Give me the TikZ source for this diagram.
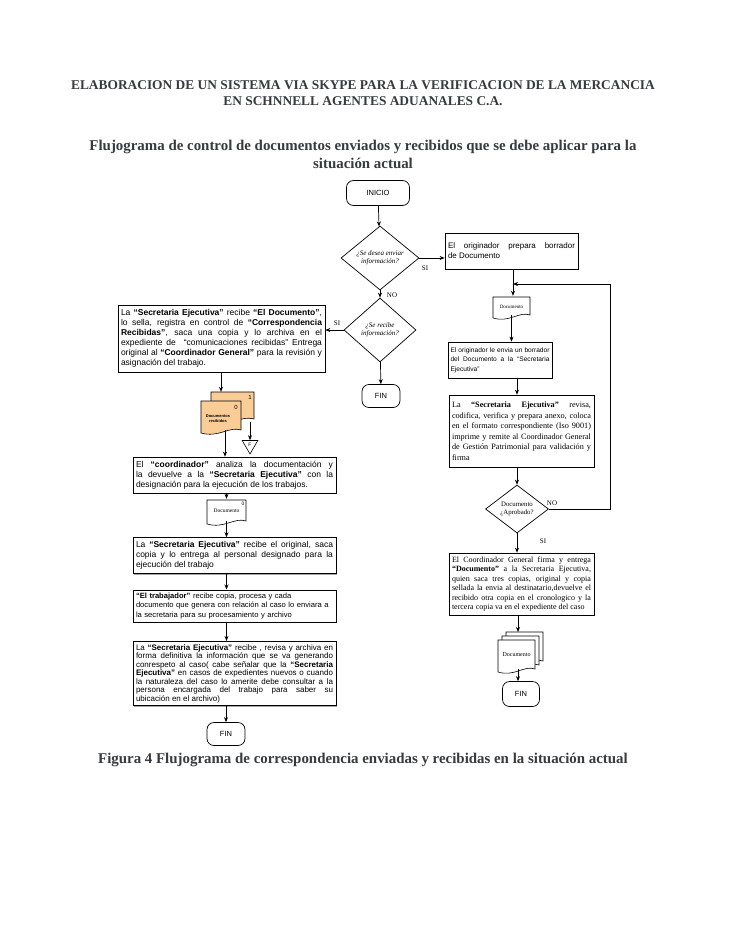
\documentclass[tikz,border=0pt]{standalone}
\usepackage{fontspec}
\setmainfont{Liberation Serif}
\setsansfont{Liberation Sans}
\usetikzlibrary{shapes.geometric,arrows.meta,shadows}
\definecolor{titlegray}{RGB}{55,58,62}
\definecolor{docorange}{RGB}{250,205,150}
\hyphenpenalty=10000
\exhyphenpenalty=10000
\emergencystretch=3em
\tikzset{
  arr/.style={draw, line width=0.7pt, -{Stealth[length=5pt,width=4pt]}},
  ln/.style={draw, line width=0.7pt},
  pbox/.style={draw, line width=0.7pt, fill=white, inner sep=3pt, anchor=center,
    font=\sffamily\fontsize{8.5}{10}\selectfont, align=justify,
    drop shadow={shadow xshift=1.2pt, shadow yshift=-1.2pt, fill=black!35, opacity=1}},
  sbox/.style={pbox, font=\rmfamily\fontsize{8.2}{10.5}\selectfont},
  term/.style={draw, line width=0.7pt, rounded corners=7pt, fill=white, anchor=center,
    font=\sffamily\fontsize{7.5}{8}\selectfont, inner sep=0pt},
  dec/.style={draw, line width=0.7pt, diamond, inner sep=0pt, anchor=center,
    font=\rmfamily\itshape\fontsize{7}{8}\selectfont, align=center},
  lbl/.style={font=\rmfamily\fontsize{7}{8}\selectfont, inner sep=0pt},
  ttl/.style={font=\rmfamily\bfseries\fontsize{13.4}{15}\selectfont, text=titlegray, inner sep=0pt},
  sttl/.style={font=\rmfamily\bfseries\fontsize{14.9}{17}\selectfont, text=titlegray, inner sep=0pt},
  dtext/.style={font=\rmfamily\fontsize{5.5}{6.5}\selectfont, inner sep=0pt, align=center},
}
\newcommand{\docpath}[5]{% x1 y1 x2 y2 fill
  \filldraw[line width=0.6pt, fill=#5] (#1,#2) -- (#3,#2) -- (#3,#4-3)
   .. controls ({#3-0.3*(#3-#1)},#4-7) and ({#1+0.45*(#3-#1)},#4+5) .. (#1,#4) -- cycle;}
\begin{document}
\begin{tikzpicture}[x=1pt,y=-1pt]
\useasboundingbox[fill=white] (0,0) rectangle (728,942);

% titles
\node[ttl] (t1) at (363,85) {ELABORACION DE UN SISTEMA VIA SKYPE PARA LA VERIFICACION DE LA MERCANCIA};
\node[ttl] (t2) at (363,101) {EN SCHNNELL AGENTES ADUANALES C.A.};
\node[sttl] (s1) at (363,147) {Flujograma de control de documentos enviados y recibidos que se debe aplicar para la};
\node[sttl] (s2) at (363,163) {situación actual};
\node[sttl] (cap) at (363,760) {Figura 4 Flujograma de correspondencia enviadas y recibidas en la situación actual};

% center column
\node[term, minimum width=63pt, minimum height=25pt] (inicio) at (378,193) {INICIO};
\node[dec, minimum width=78pt, minimum height=64pt] (d1) at (380,258) {¿Se desea enviar\\información?};
\node[dec, minimum width=72pt, minimum height=64pt] (d2) at (380,330) {¿Se recibe\\información?};
\node[term, minimum width=38pt, minimum height=23pt] (fin1) at (381,396) {FIN};

% left column
\node[pbox, text width=201pt, minimum height=67pt] (lb1) at (221.5,338.5) {La \textbf{“Secretaria Ejecutiva”} recibe \textbf{“El Documento”}, lo sella, registra en control de \textbf{“Correspondencia Recibidas”}, saca una copia y lo archiva en el expediente de \ “comunicaciones recibidas” Entrega original al \textbf{“Coordinador General”} para la revisión y asignación del trabajo.};

% orange document stack
\docpath{211}{392}{254}{422}{docorange}
\docpath{201}{401}{241}{433}{docorange}
\node[dtext, minimum width=43pt, minimum height=30pt] (docb) at (232.5,407) {};
\node[dtext, minimum width=40pt, minimum height=32pt] (docf) at (221,417) {};
\node[dtext, font=\sffamily\fontsize{6}{7}\selectfont] (n1) at (250,397) {1};
\node[dtext, font=\sffamily\fontsize{6}{7}\selectfont] (n0) at (236,407) {0};
\node[dtext, font=\sffamily\bfseries\fontsize{4}{4.8}\selectfont] (dr) at (218,419) {Documentos\\recibidos};
\node[draw, line width=0.6pt, regular polygon, regular polygon sides=3, shape border rotate=180,
  minimum size=18pt, inner sep=0pt, font=\sffamily\fontsize{5}{6}\selectfont] (arch) at (250,445) {F};

\node[pbox, text width=197pt, minimum height=36pt] (lb2) at (234.5,475) {El \textbf{“coordinador”} analiza la documentación y la devuelve a la \textbf{“Secretaria Ejecutiva”} con la designación para la ejecución de los trabajos.};
\docpath{207}{500}{246}{524}{white}
\node[dtext, minimum width=39pt, minimum height=24pt] (doc2) at (226.5,511) {Documento};
\node[dtext, font=\sffamily\fontsize{5}{6}\selectfont] (n02) at (243,504) {0};
\node[pbox, text width=197pt, minimum height=36pt] (lb3) at (234.5,555.5) {La \textbf{“Secretaria Ejecutiva”} recibe el original, saca copia y lo entrega al personal designado para la ejecución del trabajo};
\node[pbox, text width=197pt, minimum height=32pt, align=left, font=\sffamily\fontsize{7.6}{9.6}\selectfont] (lb4) at (234.5,606) {\textbf{“El trabajador”} recibe copia, procesa y cada\\documento que genera con relación al caso lo enviara a\\la secretaria para su procesamiento y archivo};
\node[pbox, text width=197pt, minimum height=64pt, font=\sffamily\fontsize{8}{8.5}\selectfont] (lb5) at (234.5,673.5) {La \textbf{“Secretaria Ejecutiva”} recibe , revisa y archiva en\linebreak forma definitiva la información que se va generando\linebreak conrespeto al caso( cabe señalar que la \textbf{“Secretaria\linebreak Ejecutiva”} en casos de expedientes nuevos o cuando\linebreak la naturaleza del caso lo amerite debe consultar a la\linebreak persona encargada del trabajo para saber su\linebreak ubicación en el archivo)};
\node[term, minimum width=38pt, minimum height=23pt] (fin2) at (226,734) {FIN};

% right column
\node[pbox, text width=127pt, minimum height=36pt, font=\sffamily\fontsize{8}{10}\selectfont] (orig) at (511.5,251) {El originador prepara borrador\linebreak de Documento};
\docpath{493}{297}{530}{318}{white}
\node[dtext, font=\rmfamily\fontsize{5}{6}\selectfont, minimum width=37pt, minimum height=21pt] (docR) at (511.5,306.5) {Documento};
\node[pbox, text width=99pt, minimum height=36pt, inner sep=2.5pt, font=\sffamily\fontsize{6.6}{9.4}\selectfont] (rb1) at (500,360) {El originador le envia un borrador\linebreak del Documento a la “Secretaria\linebreak Ejecutiva”};
\node[sbox, text width=139pt, minimum height=72pt] (rb2) at (521.5,431) {La \textbf{“Secretaria Ejecutiva”} revisa, codifica, verifica y prepara anexo, coloca en el formato correspondiente (Iso 9001) imprime y remite al Coordinador General de Gestión Patrimonial para validación y firma};
\node[dec, font=\rmfamily\fontsize{6.8}{7.8}\selectfont, minimum width=63pt, minimum height=48pt] (d3) at (517,509) {Documento\\¿Aprobado?};
\node[sbox, text width=139pt, minimum height=62pt, font=\rmfamily\fontsize{8}{9.4}\selectfont] (rb3) at (521.5,584) {El Coordinador General firma y entrega \textbf{“Documento”} a la Secretaria Ejecutiva, quien saca tres copias, original y copia sellada la envia al destinatario,devuelve el recibido otra copia en el cronologico y la tercera copia va en el expediente del caso};
% multi document stack
\docpath{506}{632}{543}{664}{white}
\docpath{502}{636}{539}{668}{white}
\docpath{498}{640}{535}{672}{white}
\node[dtext, minimum width=45pt, minimum height=40pt] (stk) at (520.5,652) {};
\node[dtext, font=\rmfamily\fontsize{6}{7}\selectfont] (stkt) at (516.5,655) {Documento};
\node[term, minimum width=37pt, minimum height=25pt] (finR) at (521,694) {FIN};

% connectors center
\draw[arr] (inicio) -- (d1);
\draw[arr] (d1) -- (d2);
\draw[arr] (d2) -- (fin1);
\draw[arr] (d1.east) -- (orig.west |- d1.east);
\draw[arr] (d2.west) -- (lb1.east |- d2.west);
\node[lbl] (si1) at (425,268) {SI};
\node[lbl] (no1) at (392,295) {NO};
\node[lbl] (si2) at (337,323) {SI};

% connectors left
\draw[arr] (lb1.south -| docf.north) -- (docb.north -| docf.north);
\draw[arr] (docb.south -| arch.north) -- (arch.north);
\draw[arr] (225,430) -- (lb2.north -| 225,0);
\draw[arr] (lb2.south -| doc2.north) -- (doc2.north);
\draw[arr] (226.5,521) -- (lb3.north -| doc2.north);
\draw[arr] (lb3.south -| 226.5,0) -- (lb4.north -| 226.5,0);
\draw[arr] (lb4.south -| 226.5,0) -- (lb5.north -| 226.5,0);
\draw[arr] (lb5.south -| fin2.north) -- (fin2.north);

% connectors right
\coordinate (jn) at (513,284);
\draw[arr] (orig.south -| jn) -- (docR.north -| jn);
\draw[arr] (511.5,315) -- (rb1.north -| 511.5,0);
\draw[arr] (rb1.south -| 517,0) -- (rb2.north -| 517,0);
\draw[arr] (rb2.south -| d3.north) -- (d3.north);
\draw[arr] (d3.south) -- (rb3.north -| d3.south);
\coordinate (lp1) at (610,509);
\coordinate (lp2) at (610,284);
\draw[ln] (d3.east) -- (lp1) -- (lp2);
\draw[arr] (lp2) -- (jn);
\node[lbl] (no2) at (552,503) {NO};
\node[lbl] (si3) at (543,541) {SI};
\draw[arr] (rb3.south -| 518,0) -- (518,632);
\draw[arr] (518,669) -- (finR.north -| 518,0);
\end{tikzpicture}
\end{document}
